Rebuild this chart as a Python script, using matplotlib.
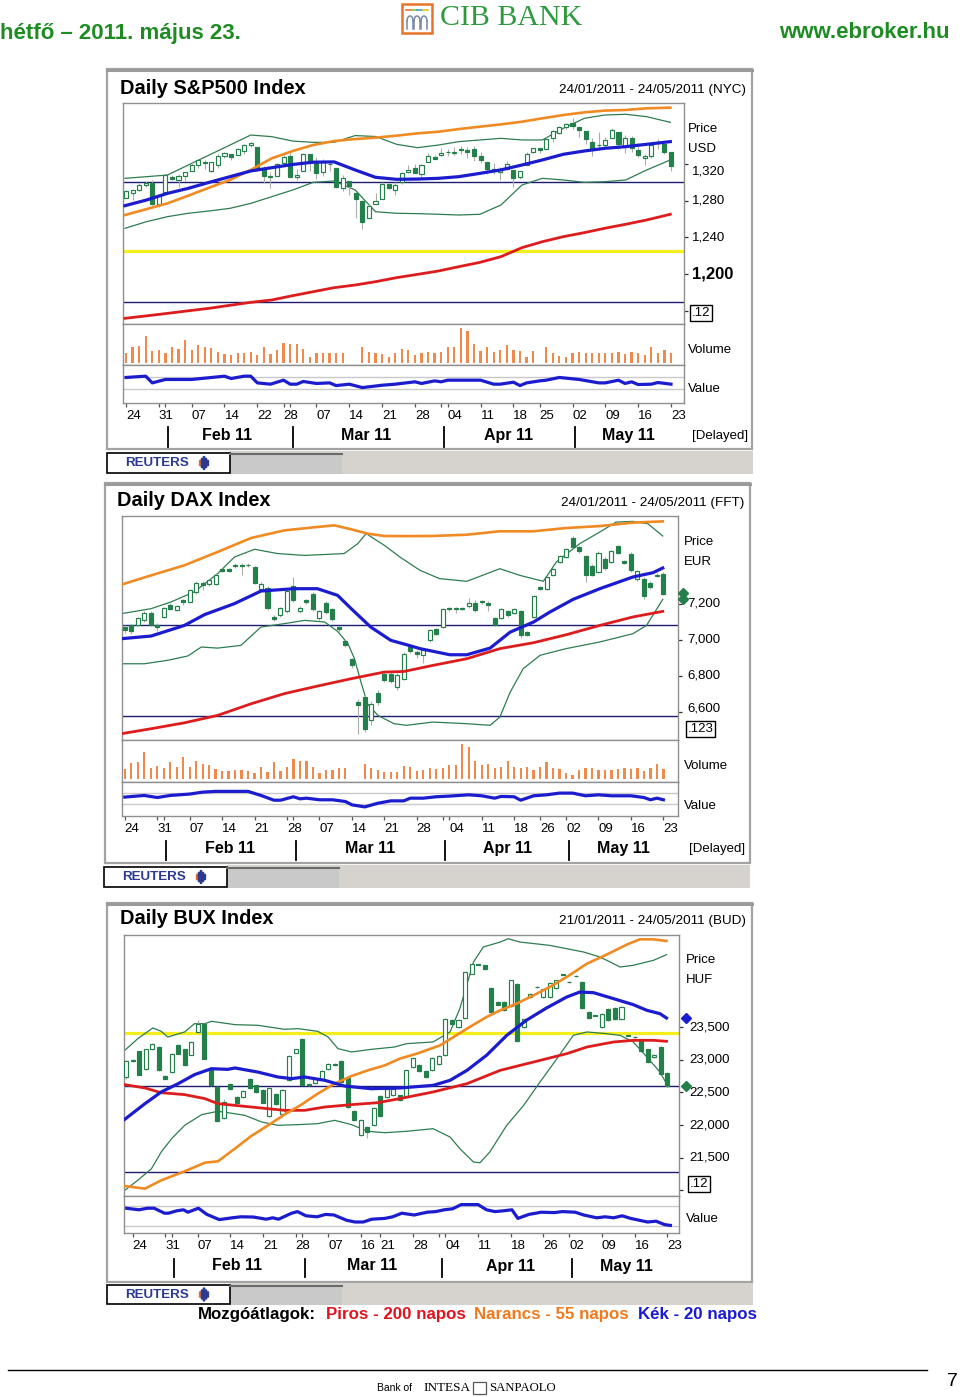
import numpy as np
import matplotlib
matplotlib.use("Agg")
import matplotlib.pyplot as plt
import matplotlib.transforms as mtrans
from matplotlib.patches import Rectangle, Circle

plt.rcParams['font.family'] = ['Liberation Sans', 'DejaVu Sans']

# ======================= DATA =======================
MONTHS = ['Feb 11', 'Mar 11', 'Apr 11', 'May 11']

# ---- S&P 500 (24/01/2011 - 23/05/2011), one value per trading day ----
SP_OPEN = [1283.3, 1288.2, 1291.9, 1297.5, 1299.6, 1276.5, 1289.1, 1305.9, 1302.8, 1307.0,
           1311.9, 1318.8, 1322.5, 1312.8, 1318.7, 1328.7, 1330.4, 1329.5, 1334.4, 1340.4,
           1338.9, 1315.4, 1307.1, 1307.3, 1321.6, 1328.6, 1305.5, 1312.4, 1330.7, 1322.7,
           1311.1, 1319.9, 1315.7, 1293.4, 1301.2, 1288.5, 1279.5, 1261.6, 1276.7, 1281.7,
           1298.3, 1292.2, 1300.6, 1311.8, 1315.5, 1309.4, 1321.9, 1327.4, 1329.5, 1333.6,
           1332.0, 1335.9, 1334.8, 1336.2, 1329.0, 1321.9, 1314.0, 1311.1, 1314.5, 1313.4,
           1305.9, 1319.1, 1333.2, 1337.1, 1336.8, 1348.4, 1353.9, 1360.1, 1365.2, 1359.8,
           1355.9, 1344.2, 1340.9, 1340.2, 1348.3, 1354.5, 1339.4, 1348.7, 1334.8, 1326.1,
           1328.5, 1342.4, 1342.0, 1333.1]
SP_HIGH = [1291.9, 1291.3, 1299.7, 1301.3, 1302.7, 1287.2, 1308.9, 1307.6, 1308.6, 1311.0,
           1322.9, 1324.9, 1324.5, 1322.0, 1330.8, 1332.9, 1330.4, 1337.6, 1341.5, 1344.1,
           1338.9, 1317.9, 1310.9, 1320.6, 1329.4, 1332.1, 1314.2, 1332.3, 1331.1, 1327.7,
           1325.7, 1323.2, 1315.7, 1308.4, 1301.2, 1288.5, 1280.9, 1276.1, 1288.9, 1300.6,
           1299.4, 1300.5, 1311.3, 1319.2, 1319.7, 1319.5, 1331.7, 1329.8, 1337.9, 1336.7,
           1338.2, 1339.5, 1338.8, 1339.5, 1333.2, 1321.9, 1321.4, 1316.8, 1322.9, 1313.4,
           1312.7, 1332.7, 1337.5, 1337.6, 1349.6, 1357.5, 1361.7, 1364.6, 1370.6, 1360.8,
           1355.9, 1348.0, 1354.4, 1349.4, 1359.4, 1354.5, 1351.1, 1350.5, 1343.3, 1330.4,
           1341.8, 1346.8, 1342.0, 1333.1]
SP_LOW = [1282.5, 1281.1, 1291.0, 1294.4, 1275.1, 1273.3, 1289.1, 1302.6, 1294.8, 1301.7,
          1311.9, 1316.0, 1314.9, 1311.6, 1316.1, 1326.9, 1324.6, 1329.5, 1331.0, 1338.1,
          1312.3, 1299.6, 1294.3, 1307.3, 1320.6, 1306.1, 1302.6, 1312.4, 1312.6, 1303.9,
          1306.9, 1312.3, 1294.2, 1291.0, 1286.4, 1261.1, 1249.1, 1261.6, 1276.2, 1281.7,
          1292.7, 1285.7, 1297.7, 1310.2, 1310.2, 1305.3, 1321.9, 1325.0, 1328.9, 1329.1,
          1330.0, 1330.7, 1326.6, 1322.9, 1321.1, 1309.2, 1309.5, 1302.4, 1313.7, 1294.7,
          1303.9, 1319.1, 1332.0, 1331.7, 1336.7, 1344.3, 1352.4, 1358.7, 1358.6, 1349.5,
          1341.5, 1329.2, 1335.6, 1338.6, 1348.3, 1336.4, 1332.0, 1333.4, 1327.3, 1318.5,
          1326.6, 1336.4, 1330.7, 1312.9]
SP_CLOSE = [1290.8, 1291.2, 1296.6, 1299.5, 1276.3, 1286.1, 1307.6, 1304.0, 1307.1, 1310.9,
            1319.1, 1324.6, 1320.9, 1321.9, 1329.2, 1332.3, 1328.0, 1336.3, 1340.4, 1343.0,
            1315.4, 1307.4, 1306.1, 1319.9, 1327.2, 1306.3, 1308.4, 1331.0, 1321.2, 1310.1,
            1321.8, 1320.0, 1295.1, 1304.3, 1296.4, 1281.9, 1256.9, 1273.7, 1279.2, 1298.4,
            1293.8, 1297.5, 1309.7, 1313.8, 1310.2, 1319.4, 1328.3, 1325.8, 1332.4, 1332.9,
            1332.6, 1335.5, 1333.5, 1328.2, 1324.5, 1314.2, 1314.4, 1314.5, 1319.7, 1305.1,
            1312.6, 1330.4, 1337.4, 1335.3, 1347.2, 1355.7, 1360.5, 1363.6, 1361.2, 1356.6,
            1347.3, 1335.1, 1340.2, 1346.3, 1357.2, 1342.1, 1348.7, 1337.8, 1329.5, 1329.0,
            1340.7, 1343.6, 1333.3, 1317.4]
SP_VOL = [30, 48, 50, 80, 36, 38, 30, 48, 40, 68,
          38, 53, 46, 43, 33, 26, 23, 28, 30, 33,
          23, 48, 26, 38, 60, 56, 56, 40, 18, 30,
          30, 30, 30, 30, np.nan, np.nan, 46, 33, 28, 25,
          18, 28, 40, 38, 23, 30, 33, 28, 33, 46,
          46, 103, 96, 56, 36, 46, 33, 38, 53, 38,
          36, 18, 36, np.nan, 48, 30, 20, 16, 28, 32,
          30, 28, 28, 30, 30, 33, 26, 33, 28, 23,
          46, 30, 38, 30]
SP_LINE_X = [-0.15, 3.15, 6.32, 9.49, 12.67, 15.84, 19.0, 22.2, 25.4, 28.5, 31.7, 34.9, 38.0, 41.2,
             44.4, 47.6, 50.7, 53.9, 57.1, 60.3, 63.4, 66.6, 69.8, 72.9, 76.1, 79.3, 82.9]
SP_MA20 = [1274.6, 1280.8, 1288.0, 1293.5, 1300.0, 1306.2, 1312.4, 1316.0, 1319.5, 1322.0, 1322.3,
           1313.5, 1305.5, 1303.3, 1303.6, 1304.4, 1306.2, 1309.8, 1313.6, 1318.9, 1324.4, 1330.6,
           1334.2, 1337.1, 1338.9, 1341.5, 1344.4]
SP_MA55 = [1264.4, 1270.9, 1277.1, 1285.5, 1294.2, 1302.6, 1313.5, 1326.2, 1334.2, 1340.7, 1345.0,
           1347.2, 1348.7, 1350.9, 1353.4, 1355.2, 1358.1, 1360.7, 1363.2, 1366.1, 1369.8, 1373.4,
           1376.3, 1378.2, 1378.9, 1380.7, 1381.4]
SP_MA200 = [1151.8, 1154.5, 1157.2, 1160.0, 1162.7, 1166.0, 1169.2, 1171.8, 1176.5, 1180.8, 1185.2,
            1188.1, 1191.7, 1196.1, 1199.7, 1203.4, 1208.1, 1212.8, 1219.0, 1228.8, 1235.3, 1240.8,
            1245.2, 1249.9, 1254.3, 1259.0, 1265.2]
SP_BB_UP = [1304.4, 1306.2, 1308.0, 1318.9, 1329.8, 1340.7, 1351.6, 1349.8, 1345.0, 1343.6, 1343.6,
            1351.0, 1350.0, 1341.5, 1337.8, 1340.7, 1344.4, 1346.2, 1348.0, 1346.2, 1346.2, 1358.9,
            1369.8, 1373.4, 1374.2, 1371.6, 1365.4]
SP_BB_LO = [1249.9, 1257.2, 1262.6, 1266.3, 1268.8, 1271.7, 1277.1, 1284.4, 1291.7, 1300.0, 1301.5,
            1291.7, 1268.0, 1266.3, 1265.9, 1265.2, 1264.4, 1265.2, 1275.3, 1297.1, 1304.4, 1302.6,
            1300.0, 1300.7, 1302.6, 1313.5, 1324.4]
SP_NAVY = [1300, 1170]
SP_YELLOW = [1225]
SP_VAL_X = [0, 3, 4, 6, 10, 15, 16, 18, 19, 20, 22, 24, 25, 26, 27, 29, 31, 32, 34, 36, 39, 41, 44,
            45, 47, 48, 49, 54, 56, 57, 59, 60, 61, 63, 64, 66, 69, 72, 73, 75, 76, 77, 78, 80, 81, 83]
SP_VAL = [1.0, 1.11, 0.54, 0.83, 0.83, 1.11, 0.91, 1.11, 1.11, 0.54, 0.43, 0.77, 0.43, 0.43, 0.66,
          0.49, 0.54, 0.31, 0.43, 0.14, 0.34, 0.43, 0.63, 0.49, 0.71, 0.63, 0.77, 0.77, 0.43, 0.43,
          0.6, 0.31, 0.54, 0.71, 0.77, 1.0, 0.83, 0.54, 0.54, 0.77, 0.49, 0.63, 0.4, 0.43, 0.57, 0.43]
SP_TICK_IDX = [0, 5, 10, 15, 20, 24, 29, 34, 39, 44, 49, 54, 59, 63, 68, 73, 78, 83]
SP_TICK_LAB = ['24', '31', '07', '14', '22', '28', '07', '14', '21', '28', '04', '11', '18', '25',
               '02', '09', '16', '23']
SP_MONTH_START = [6, 25, 48, 68]
SP_MONTH_LAB_X = [15.4, 36.5, 58.2, 76.5]
SP_YTICKS = [1320, 1280, 1240, 1200, 1160]
SP_YLAB = ['1,320', '1,280', '1,240', '1,200']

# ---- DAX ----
DAX_OPEN = [7072, 7081, 7085, 7109, 7152, 7081, 7128, 7196, 7168, 7220,
            7211, 7267, 7318, 7313, 7313, 7392, 7392, 7418, 7418, 7418,
            7405, 7281, 7289, 7128, 7137, 7161, 7300, 7161, 7220, 7257,
            7122, 7207, 7170, 7072, 6992, 6892, 6655, 6683, 6554, 6705,
            6813, 6813, 6739, 6785, 6961, 6933, 6915, 6998, 7059, 7072,
            7176, 7174, 7172, 7189, 7207, 7215, 7207, 7122, 7122, 7159,
            7152, 7159, 7044, 7128, 7294, 7281, 7363, 7433, 7461, 7567,
            7517, 7467, 7411, 7378, 7452, 7433, 7522, 7437, 7480, 7337,
            7341, 7318, 7363, 7368]
DAX_HIGH = [7085, 7090, 7130, 7160, 7160, 7095, 7185, 7205, 7195, 7228,
            7285, 7325, 7330, 7340, 7370, 7400, 7398, 7425, 7426, 7425,
            7412, 7320, 7300, 7140, 7185, 7280, 7350, 7190, 7230, 7265,
            7165, 7215, 7178, 7080, 7000, 6900, 6670, 6700, 6660, 6720,
            6825, 6820, 6815, 6935, 6975, 6945, 6950, 7060, 7068, 7180,
            7185, 7182, 7185, 7235, 7220, 7222, 7215, 7130, 7178, 7168,
            7178, 7168, 7050, 7250, 7300, 7358, 7402, 7472, 7512, 7580,
            7525, 7475, 7420, 7492, 7460, 7500, 7530, 7445, 7488, 7390,
            7350, 7325, 7372, 7375]
DAX_LOW = [7040, 7035, 7075, 7100, 7075, 7050, 7120, 7165, 7160, 7195,
           7205, 7255, 7280, 7300, 7305, 7375, 7378, 7400, 7360, 7408,
           7310, 7270, 7165, 7108, 7125, 7150, 7210, 7150, 7200, 7160,
           7110, 7145, 7105, 7045, 6960, 6845, 6480, 6490, 6530, 6640,
           6765, 6760, 6720, 6775, 6925, 6900, 6870, 6990, 7025, 7065,
           7160, 7150, 7165, 7180, 7155, 7200, 7160, 7075, 7115, 7130,
           7145, 7010, 7020, 7120, 7275, 7275, 7355, 7425, 7455, 7510,
           7485, 7320, 7355, 7370, 7390, 7425, 7478, 7420, 7380, 7330,
           7230, 7285, 7348, 7250]
DAX_CLOSE = [7054, 7048, 7122, 7152, 7085, 7072, 7178, 7174, 7187, 7211,
             7279, 7318, 7307, 7331, 7363, 7385, 7385, 7411, 7411, 7416,
             7318, 7313, 7178, 7118, 7178, 7270, 7220, 7178, 7211, 7170,
             7159, 7155, 7118, 7059, 6974, 6859, 6637, 6503, 6646, 6655,
             6776, 6770, 6804, 6924, 6937, 6924, 6942, 7054, 7035, 7174,
             7172, 7176, 7176, 7207, 7165, 7213, 7196, 7085, 7170, 7141,
             7170, 7029, 7029, 7244, 7285, 7350, 7396, 7467, 7507, 7517,
             7492, 7363, 7363, 7485, 7400, 7492, 7485, 7429, 7387, 7381,
             7244, 7294, 7355, 7257]
DAX_VOL = [30, 47, 52, 82, 34, 40, 34, 52, 37, 67,
           37, 54, 44, 42, 30, 24, 24, 27, 27, 24,
           17, 37, 22, 52, 24, 37, 60, 54, 54, 37,
           17, 27, 27, 32, 32, np.nan, np.nan, 44, 32, 27,
           22, 20, 20, 40, 37, 24, 27, 32, 30, 34,
           42, 42, 104, 97, 54, 42, 44, 32, 37, 54,
           37, 32, 37, 27, 37, 52, 32, 30, 17, 12,
           27, 32, 32, 27, 27, 27, 30, 32, 30, 32,
           24, 32, 44, 30]
DAX_MA55_X = [-0.57, 4.06, 9.2, 14.3, 19.5, 24.6, 29.7, 32.3, 34.9, 37.4, 40.0, 43.0, 47.5, 52.7,
              57.8, 63.0, 68.0, 73.2, 78.3, 82.9]
DAX_MA55 = [7307, 7359, 7415, 7489, 7567, 7609, 7628, 7637, 7615, 7591, 7578, 7577, 7578, 7585,
            7604, 7604, 7622, 7633, 7652, 7659]
DAX_MA20_X = [-0.57, 4.06, 9.2, 12.3, 16.9, 21.0, 26.1, 29.7, 32.8, 34.9, 37.9, 41.0, 43.4, 45.5,
              50.1, 52.7, 56.3, 59.4, 63.0, 65.5, 69.1, 73.2, 78.3, 81.4, 82.9]
DAX_MA20 = [7007, 7022, 7081, 7141, 7202, 7272, 7285, 7285, 7248, 7174, 7072, 6998, 6974, 6952,
            6918, 6918, 6955, 7044, 7100, 7155, 7226, 7285, 7350, 7374, 7400]
DAX_MA200_X = [-0.57, 4.06, 9.2, 14.3, 19.5, 24.6, 29.7, 34.9, 40.0, 43.0, 47.5, 52.7, 57.8, 63.0,
               68.0, 73.2, 78.3, 82.9]
DAX_MA200 = [6479, 6507, 6540, 6581, 6646, 6702, 6744, 6785, 6822, 6825, 6859, 6896, 6952, 6985,
             7029, 7081, 7128, 7159]
DAX_BBU_X = [-0.57, 4.06, 7.1, 10.7, 14.3, 16.9, 20.0, 23.6, 27.7, 33.8, 35.9, 37.2, 40.0, 42.4,
             45.5, 48.5, 52.7, 57.8, 60.9, 64.5, 66.5, 70.1, 73.2, 75.7, 78.3, 80.6, 82.9]
DAX_BB_UP = [7146, 7174, 7211, 7267, 7368, 7461, 7504, 7480, 7470, 7480, 7535, 7591, 7526, 7461,
             7387, 7341, 7326, 7396, 7359, 7326, 7433, 7535, 7600, 7655, 7659, 7646, 7578]
DAX_BBL_X = [-0.57, 3.03, 6.6, 9.7, 11.8, 14.3, 17.9, 21.0, 24.6, 27.7, 30.8, 32.8, 34.4, 35.4,
             36.4, 37.4, 39.0, 41.5, 43.4, 47.5, 52.7, 56.3, 57.8, 59.4, 61.4, 64.0, 68.0, 73.2,
             78.3, 80.4, 82.9]
DAX_BB_LO = [6868, 6868, 6887, 6911, 6961, 6955, 6970, 7072, 7091, 7109, 7100, 7048, 6979, 6896,
             6766, 6646, 6581, 6535, 6526, 6544, 6535, 6526, 6572, 6711, 6841, 6915, 6952, 6989,
             7035, 7081, 7226]
DAX_NAVY = [7081, 6578]
DAX_YELLOW = []
DAX_VAL_X = [0, 3, 5, 7, 10, 12, 14, 19, 21, 23, 24, 26, 27, 28, 30, 32, 34, 35, 37, 39, 41, 43,
             44, 46, 48, 50, 53, 55, 57, 58, 60, 61, 63, 65, 67, 69, 71, 73, 75, 78, 80, 81, 82, 83]
DAX_VAL = [0.63, 0.78, 0.59, 0.78, 0.91, 1.09, 1.16, 1.16, 0.78, 0.34, 0.34, 0.66, 0.47, 0.53,
           0.38, 0.38, 0.22, -0.09, -0.28, 0.06, 0.28, 0.28, 0.53, 0.53, 0.66, 0.72, 0.84, 0.75,
           0.53, 0.69, 0.66, 0.34, 0.75, 0.84, 1.0, 1.0, 0.75, 0.84, 0.75, 0.75, 0.59, 0.38, 0.53,
           0.38]
DAX_TICK_IDX = [0, 5, 10, 15, 20, 25, 30, 35, 40, 45, 50, 55, 60, 64, 68, 73, 78, 83]
DAX_TICK_LAB = ['24', '31', '07', '14', '21', '28', '07', '14', '21', '28', '04', '11', '18', '26',
                '02', '09', '16', '23']
DAX_MONTH_START = [6, 26, 49, 68]
DAX_MONTH_LAB_X = [16.2, 37.8, 59.0, 76.9]
DAX_YTICKS = [7200, 7000, 6800, 6600]
DAX_YLAB = ['7,200', '7,000', '6,800', '6,600']
DAX_MARKERS = [7262, 7228]

# ---- BUX (21/01/2011 - 23/05/2011) ----
BUX_OPEN = [22735, 23000, 23128, 22852, 23158, 23194, 22745, 22811, 23220, 23158,
            23077, 23424, 23551, 22837, 22582, 22108, 22633, 22429, 22429, 22710,
            22608, 22531, 22138, 22480, 22174, 22684, 23107, 23311, 22633, 22648,
            22710, 22852, 22934, 22975, 22720, 22210, 21843, 21970, 21996, 22444,
            22429, 22454, 22454, 22444, 22888, 22924, 22822, 22837, 22939, 23066,
            23602, 23500, 23638, 24316, 24459, 24444, 24097, 23882, 23882, 23821,
            24163, 23500, 23959, 24117, 23959, 23959, 24097, 24306, 24193, 24285,
            24188, 23729, 23683, 23500, 23780, 23791, 23617, 23377, 23352, 23311,
            23158, 23041, 23194, 22801]
BUX_HIGH = [22990, 23010, 23140, 23170, 23260, 23205, 22760, 23100, 23235, 23170,
            23290, 23600, 23565, 22850, 22595, 22400, 22650, 22440, 22530, 22725,
            22620, 22545, 22580, 22490, 22545, 23070, 23170, 23325, 22645, 22725,
            22835, 22950, 22945, 22990, 22735, 22225, 22085, 21985, 22275, 22455,
            22560, 22570, 22465, 22850, 23040, 22935, 22835, 23040, 23070, 23640,
            23615, 23615, 24355, 24480, 24470, 24455, 24110, 23895, 23895, 24225,
            24175, 23630, 24020, 24125, 24085, 24190, 24225, 24315, 24200, 24295,
            24200, 23740, 23690, 23715, 23790, 23800, 23815, 23385, 23360, 23320,
            23170, 23085, 23205, 22810]
BUX_LOW = [22700, 22960, 22760, 22840, 23150, 22820, 22700, 22800, 23080, 22910,
           23065, 23410, 23005, 22595, 22040, 22095, 22530, 22330, 22415, 22555,
           22495, 22330, 22125, 22310, 22160, 22670, 23095, 22605, 22595, 22635,
           22700, 22840, 22910, 22645, 22260, 22055, 21830, 21800, 21985, 22125,
           22415, 22440, 22365, 22430, 22875, 22810, 22720, 22825, 22925, 23055,
           23540, 23490, 23625, 24305, 24445, 24370, 23715, 23830, 23740, 23810,
           23270, 23490, 23945, 24100, 23945, 23945, 24085, 24290, 24175, 24265,
           23780, 23625, 23665, 23490, 23590, 23605, 23605, 23360, 23335, 23115,
           22950, 23030, 22775, 22585]
BUX_CLOSE = [22975, 22975, 22771, 23158, 23245, 22837, 22710, 23092, 23092, 22924,
             23271, 23551, 23016, 22608, 22057, 22353, 22546, 22342, 22516, 22567,
             22506, 22342, 22567, 22327, 22531, 23056, 23158, 22618, 22608, 22710,
             22822, 22939, 22924, 22659, 22276, 22072, 22072, 21894, 22261, 22138,
             22546, 22556, 22378, 22837, 23026, 22822, 22735, 23026, 23056, 23628,
             23551, 23602, 24341, 24469, 24454, 24382, 23729, 23842, 23755, 24214,
             23281, 23617, 24010, 24107, 24076, 24178, 24214, 24296, 24183, 24275,
             23791, 23638, 23673, 23704, 23602, 23617, 23806, 23367, 23342, 23128,
             22964, 23077, 22786, 22597]
BUX_MA55_X = [-0.2, 2.9, 5.4, 9.0, 12.1, 14.1, 16.7, 19.2, 21.8, 24.3, 26.9, 29.4, 32.0, 34.6,
              37.1, 39.7, 42.0, 44.6, 48.2, 52.3, 55.3, 57.4, 59.9, 62.5, 65.0, 67.6, 70.7, 73.7,
              76.8, 78.8, 80.9, 82.9]
BUX_MA55 = [21067, 21027, 21154, 21292, 21424, 21445, 21639, 21832, 21996, 22159, 22312, 22480,
            22633, 22750, 22837, 22913, 23016, 23092, 23220, 23475, 23653, 23755, 23857, 23984,
            24112, 24265, 24469, 24607, 24760, 24841, 24841, 24816]
BUX_MA20_X = [-0.2, 2.9, 5.4, 8.0, 10.5, 13.1, 15.6, 16.7, 20.2, 23.3, 25.4, 27.4, 30.5, 33.5,
              37.6, 42.0, 47.1, 49.7, 52.3, 55.3, 58.4, 61.4, 64.5, 67.6, 69.6, 71.7, 74.8, 77.8,
              79.9, 81.9, 82.9]
BUX_MA20 = [22087, 22327, 22506, 22633, 22771, 22862, 22852, 22873, 22811, 22735, 22710, 22735,
            22684, 22597, 22556, 22567, 22607, 22684, 22837, 23067, 23372, 23602, 23791, 23959,
            24035, 24025, 23933, 23842, 23755, 23704, 23638]
BUX_MA200_X = [-0.2, 2.9, 5.4, 9.0, 12.1, 14.1, 16.7, 19.2, 21.8, 24.3, 27.4, 30.5, 34.6, 38.6,
               42.0, 47.1, 52.3, 57.4, 62.5, 67.6, 70.7, 74.8, 77.8, 80.9, 82.9]
BUX_MA200 = [22618, 22567, 22495, 22465, 22404, 22327, 22301, 22276, 22250, 22225, 22225, 22276,
             22312, 22342, 22404, 22506, 22633, 22837, 22964, 23092, 23194, 23271, 23296, 23296,
             23281]
BUX_BBU_X = [-0.2, 1.8, 4.1, 5.4, 6.4, 9.0, 10.5, 12.1, 13.1, 16.7, 20.2, 24.3, 26.4, 29.4, 31.0,
             32.5, 34.6, 37.6, 41.2, 43.0, 47.1, 49.7, 51.2, 53.3, 54.8, 57.4, 58.6, 60.4, 65.0,
             70.2, 72.7, 75.8, 77.8, 80.9, 82.9]
BUX_BB_UP = [23143, 23321, 23485, 23434, 23347, 23424, 23551, 23551, 23587, 23536, 23526, 23465,
             23475, 23434, 23347, 23169, 23118, 23158, 23194, 23245, 23271, 23424, 23780, 24494,
             24724, 24800, 24851, 24800, 24749, 24647, 24571, 24418, 24444, 24520, 24607]
BUX_BBL_X = [-0.2, 1.8, 3.9, 5.4, 7.0, 9.0, 11.6, 14.1, 15.6, 18.2, 20.8, 23.3, 26.4, 29.4, 32.0,
             34.6, 37.1, 39.7, 43.0, 47.1, 49.7, 51.2, 53.3, 54.3, 55.8, 58.4, 61.0, 63.5, 66.1,
             68.6, 70.7, 73.7, 75.8, 77.8, 79.9, 81.9, 82.9]
BUX_BB_LO = [21001, 21154, 21332, 21588, 21792, 21996, 22159, 22210, 22190, 22149, 22047, 21996,
             22006, 22021, 22072, 22006, 21904, 21883, 21904, 21944, 21817, 21639, 21434, 21424,
             21588, 21996, 22302, 22658, 23016, 23372, 23424, 23398, 23372, 23271, 23041, 22811,
             22633]
BUX_NAVY = [22597, 21282]
BUX_YELLOW = [23413]
BUX_VAL_X = [0.0, 2.0, 3.3, 4.3, 5.9, 6.5, 7.8, 8.8, 9.5, 11.1, 12.4, 14.3, 16.3, 17.6, 19.5, 21.5,
             22.5, 23.4, 25.4, 26.3, 27.6, 29.3, 30.6, 31.9, 33.8, 35.1, 36.4, 37.7, 39.7, 40.9,
             42.3, 44.2, 46.2, 47.5, 48.8, 50.1, 51.4, 54.0, 55.3, 56.6, 57.9, 59.2, 60.1, 61.8,
             63.7, 65.7, 66.9, 68.9, 70.2, 72.2, 73.5, 74.8, 76.1, 77.4, 78.7, 80.0, 81.3, 82.6, 83.5]
BUX_VAL = [0.91, 0.83, 0.91, 0.91, 0.66, 0.66, 0.78, 0.83, 0.71, 0.91, 0.6, 0.34, 0.43, 0.48, 0.47,
           0.36, 0.43, 0.36, 0.66, 0.74, 0.53, 0.48, 0.6, 0.57, 0.31, 0.22, 0.22, 0.36, 0.4, 0.48,
           0.66, 0.57, 0.71, 0.74, 0.83, 0.88, 1.09, 1.09, 0.83, 0.74, 0.78, 0.83, 0.4, 0.6, 0.71,
           0.69, 0.74, 0.71, 0.57, 0.43, 0.48, 0.43, 0.53, 0.4, 0.31, 0.22, 0.26, 0.09, 0.05]
BUX_TICK_IDX = [1, 6, 11, 16, 21, 26, 31, 36, 39, 44, 49, 54, 59, 64, 68, 73, 78, 83]
BUX_TICK_LAB = ['24', '31', '07', '14', '21', '28', '07', '16', '21', '28', '04', '11', '18', '26',
                '02', '09', '16', '23']
BUX_MONTH_START = [7, 27, 48, 68]
BUX_MONTH_LAB_X = [17.0, 37.7, 59.0, 76.8]
BUX_YTICKS = [23500, 23000, 22500, 22000, 21500, 21000]
BUX_YLAB = ['23,500', '23,000', '22,500', '22,000', '21,500']
BUX_MARKER_MA = 23638
BUX_MARKER_LAST = 22600

# ======================= STYLE / FIGURE =======================
W, H = 960, 1397
fig = plt.figure(figsize=(W / 100, H / 100), dpi=100)
ov = fig.add_axes([0, 0, 1, 1])
ov.set_xlim(0, W)
ov.set_ylim(H, 0)
ov.axis('off')
ov.set_zorder(0)

CGREEN = '#23804a'
NAVY = '#1c1c70'
YELLOW = '#f4ee1c'
ORANGE = '#f08a22'
RED = '#dd1d1d'
BLUE = '#1c1ccf'
BBCOL = '#2e7d50'
VOLCOL = '#f08a4c'
HDRGREEN = '#1f8c23'


def px_axes(x0, y0, x1, y1):
    ax = fig.add_axes([x0 / W, 1 - y1 / H, (x1 - x0) / W, (y1 - y0) / H])
    ax.set_zorder(2)
    for s in ax.spines.values():
        s.set_color('#8f8f8f')
        s.set_linewidth(1.0)
    ax.set_xticks([])
    ax.set_yticks([])
    return ax


def candles(ax, o, h, l, c):
    o = np.asarray(o, float); h = np.asarray(h, float)
    l = np.asarray(l, float); c = np.asarray(c, float)
    idx = np.arange(len(c))
    ax.vlines(idx, l, h, color='#a9aea9', lw=0.8, zorder=3)
    up = c >= o
    bot = np.minimum(o, c)
    hgt = np.maximum(np.abs(c - o), 1e-9)
    ax.bar(idx[up], hgt[up], bottom=bot[up], width=0.62, facecolor='white',
           edgecolor=CGREEN, linewidth=0.85, zorder=3.2)
    ax.bar(idx[~up], hgt[~up], bottom=bot[~up], width=0.62, facecolor=CGREEN,
           edgecolor=CGREEN, linewidth=0.85, zorder=3.2)


def draw_panel(g):
    x0, x1 = g['xpx']
    xl = g['xlim']
    yp0, yp1 = g['price_px']
    ap = px_axes(x0, yp0, x1, yp1)
    ap.set_xlim(*xl)
    ap.set_ylim(*g['ylim'])
    for v in g['yellow']:
        ap.axhline(v, color=YELLOW, lw=2.3, zorder=1.4)
    for v in g['navy']:
        ap.axhline(v, color=NAVY, lw=1.0, zorder=1.5)
    ap.plot(g['bbu'][0], g['bbu'][1], color=BBCOL, lw=0.9, zorder=2)
    ap.plot(g['bbl'][0], g['bbl'][1], color=BBCOL, lw=0.9, zorder=2)
    candles(ap, *g['ohlc'])
    ap.plot(g['ma200'][0], g['ma200'][1], color=RED, lw=2.0, zorder=4)
    ap.plot(g['ma55'][0], g['ma55'][1], color=ORANGE, lw=1.9, zorder=4)
    ap.plot(g['ma20'][0], g['ma20'][1], color=BLUE, lw=2.3, zorder=4.1)
    # right axis ticks and labels
    ap.yaxis.tick_right()
    ap.set_yticks(g['yticks'])
    ap.set_yticklabels([])
    ap.tick_params(axis='y', length=3, width=0.9, color='#333333')
    base = mtrans.blended_transform_factory(ap.transAxes, ap.transData)
    for val, lab, dy, bold in g['ylabels']:
        tr = mtrans.offset_copy(base, fig=fig, x=g['lab_dx'], y=-dy, units='dots')
        ap.text(1.0, val, lab, transform=tr, ha='left', va='center', clip_on=False,
                fontsize=12 if bold else 9.5, fontweight='bold' if bold else 'normal')
    for (xv, yv, col) in g.get('markers', []):
        ap.plot([xv], [yv], marker='D', ms=5.5, color=col, clip_on=False, zorder=6)

    # volume
    if g.get('vol') is not None:
        yv0, yv1 = g['vol_px']
        av = px_axes(x0, yv0, x1, yv1)
        av.set_xlim(*xl)
        av.set_ylim(*g['vol_ylim'])
        vol = np.asarray(g['vol'], float)
        vi = np.arange(len(vol))
        m = ~np.isnan(vol)
        av.bar(vi[m], vol[m], width=0.34, color=VOLCOL, linewidth=0)

    # value
    yl0, yl1 = g['val_px']
    aval = px_axes(x0, yl0, x1, yl1)
    aval.set_xlim(*xl)
    aval.set_ylim(*g['val_ylim'])
    aval.axhline(1, color='#c9c9c9', lw=1.0)
    aval.axhline(0, color='#c9c9c9', lw=1.0)
    aval.plot(g['val'][0], g['val'][1], color=BLUE, lw=2.3)
    aval.set_xticks(g['tick_idx'])
    aval.set_xticklabels(g['tick_lab'])
    for t in aval.get_xticklabels():
        t.set_ha('left')
    aval.set_xticks(g['month_start'], minor=True)
    aval.tick_params(axis='x', which='both', length=3, width=0.9, color='#555555',
                     pad=2, labelsize=9.5, bottom=True)
    hpx = yl1 - yl0
    bt = mtrans.blended_transform_factory(aval.transData, aval.transAxes)
    s0, s1 = g['sep_px']
    for ms in g['month_start']:
        aval.plot([ms + 0.4, ms + 0.4], [-(s0 - yl1) / hpx, -(s1 - yl1) / hpx], color='black',
                  lw=1.3, transform=bt, clip_on=False)
    for mx, ml in zip(g['month_x'], MONTHS):
        aval.text(mx, -(g['month_px'] - yl1) / hpx, ml, transform=bt, ha='center', va='center',
                  fontsize=11.5, fontweight='bold', clip_on=False)


def frame(x0, y0, x1, y1):
    ov.add_patch(Rectangle((x0, y0), x1 - x0, y1 - y0, fill=False, ec='#a3a3a3', lw=1.6))
    ov.plot([x0, x1], [y0 + 0.5, y0 + 0.5], color='#9a9a9a', lw=2.2)


def reuters_bar(x0, y0, y1):
    ov.add_patch(Rectangle((x0 + 123, y0 - 2), 646 - 123, y1 - y0 + 3, fc='#d6d3ce', ec='none'))
    ov.add_patch(Rectangle((x0 + 123, y0), 112, y1 - y0 + 1, fc='#c9c9c9', ec='none'))
    ov.plot([x0 + 123, x0 + 235], [y0 + 0.5, y0 + 0.5], color='#6a6a6a', lw=1.5)
    ov.add_patch(Rectangle((x0, y0), 123, y1 - y0, fc='white', ec='black', lw=1.2))
    ym = (y0 + y1) / 2
    ov.text(x0 + 18, ym + 0.5, 'REUTERS', color='#2b3990', fontsize=9.6, fontweight='bold',
            ha='left', va='center')
    cx = x0 + 97
    for i in range(-2, 3):
        for j in range(-3, 4):
            if i * i + 0.6 * j * j <= 5.5:
                col = '#e06a2a' if (i == -2 and j in (-1, 0, 1)) else '#2b3990'
                ov.add_patch(Circle((cx + i * 1.9, ym + j * 1.9), 0.75, color=col))


# ----------------------- header -----------------------
ov.text(0, 33, 'hétfő – 2011. május 23.', color=HDRGREEN, fontsize=16, fontweight='bold',
        ha='left', va='center')
ov.text(950, 33, 'www.ebroker.hu', color=HDRGREEN, fontsize=16, fontweight='bold',
        ha='right', va='center')
ov.add_patch(Rectangle((402, 4), 30, 29, fill=False, ec='#e8742c', lw=1.8))
for k, colr in enumerate(['#e8742c', '#8bbf3c', '#3aa0d8', '#e8c02c']):
    ov.plot([406 + 5.5 * k, 411 + 5.5 * k], [10, 10], color=colr, lw=1.2)
for cxa in (410, 417, 424):
    t = np.linspace(0, np.pi, 20)
    ov.plot(cxa + 3 * np.cos(t), 21 - 5 * np.sin(t), color='#7887a6', lw=1.1)
    ov.plot([cxa - 3, cxa - 3], [21, 29], color='#7887a6', lw=1.1)
    ov.plot([cxa + 3, cxa + 3], [21, 29], color='#7887a6', lw=1.1)
ov.text(440, 18, 'CIB BANK', color='#2e9a3e', fontsize=21.5,
        family=['Liberation Serif', 'DejaVu Serif'], ha='left', va='center')

# ----------------------- S&P panel -----------------------
frame(107, 69, 752, 449)
ov.text(120, 88, 'Daily S&P500 Index', fontsize=14.4, fontweight='bold', ha='left', va='center')
ov.text(746, 90, '24/01/2011 - 24/05/2011 (NYC)', fontsize=9.7, ha='right', va='center')
for txt, yy in (('Price', 129), ('USD', 149), ('Volume', 350), ('Value', 389)):
    ov.text(688, yy, txt, fontsize=9.5, ha='left', va='center')
ov.text(692, 436, '[Delayed]', fontsize=9.5, ha='left', va='center')
ov.text(692, 313, '.12', fontsize=9.5, ha='left', va='center',
        bbox=dict(boxstyle='square,pad=0.12', fc='white', ec='black', lw=1))
reuters_bar(107, 453, 473)

draw_panel(dict(
    xpx=(123.5, 684), xlim=(-0.38, 84.98), price_px=(103, 324), ylim=(1145.6, 1386.5),
    yellow=SP_YELLOW, navy=SP_NAVY,
    bbu=(SP_LINE_X, SP_BB_UP), bbl=(SP_LINE_X, SP_BB_LO),
    ohlc=(SP_OPEN, SP_HIGH, SP_LOW, SP_CLOSE),
    ma200=(SP_LINE_X, SP_MA200), ma55=(SP_LINE_X, SP_MA55), ma20=(SP_LINE_X, SP_MA20),
    yticks=SP_YTICKS,
    ylabels=[(SP_YTICKS[0], SP_YLAB[0], 7, False), (SP_YTICKS[1], SP_YLAB[1], 0, False),
             (SP_YTICKS[2], SP_YLAB[2], 0, False), (SP_YTICKS[3], SP_YLAB[3], 0, True)],
    lab_dx=8,
    vol=SP_VOL, vol_px=(324, 365), vol_ylim=(-7, 116),
    val=(SP_VAL_X, SP_VAL), val_px=(365, 403), val_ylim=(-1.17, 2.06),
    tick_idx=SP_TICK_IDX, tick_lab=SP_TICK_LAB, month_start=SP_MONTH_START,
    month_x=SP_MONTH_LAB_X, month_px=436, sep_px=(427, 447),
))

# ----------------------- DAX panel -----------------------
frame(105, 483, 750, 863)
ov.text(117, 501, 'Daily DAX Index', fontsize=14.4, fontweight='bold', ha='left', va='center')
ov.text(744, 503, '24/01/2011 - 24/05/2011 (FFT)', fontsize=9.7, ha='right', va='center')
for txt, yy in (('Price', 542), ('EUR', 562), ('Volume', 766), ('Value', 806)):
    ov.text(684, yy, txt, fontsize=9.5, ha='left', va='center')
ov.text(689, 849, '[Delayed]', fontsize=9.5, ha='left', va='center')
ov.text(688, 729, '.123', fontsize=9.5, ha='left', va='center',
        bbox=dict(boxstyle='square,pad=0.12', fc='white', ec='black', lw=1))
reuters_bar(104, 867, 887)

draw_panel(dict(
    xpx=(122, 678), xlim=(-0.42, 85.25), price_px=(516, 740), ylim=(6444.4, 7688.9),
    yellow=DAX_YELLOW, navy=DAX_NAVY,
    bbu=(DAX_BBU_X, DAX_BB_UP), bbl=(DAX_BBL_X, DAX_BB_LO),
    ohlc=(DAX_OPEN, DAX_HIGH, DAX_LOW, DAX_CLOSE),
    ma200=(DAX_MA200_X, DAX_MA200), ma55=(DAX_MA55_X, DAX_MA55), ma20=(DAX_MA20_X, DAX_MA20),
    yticks=DAX_YTICKS,
    ylabels=[(DAX_YTICKS[0], DAX_YLAB[0], 0, False), (DAX_YTICKS[1], DAX_YLAB[1], 0, False),
             (DAX_YTICKS[2], DAX_YLAB[2], 0, False), (DAX_YTICKS[3], DAX_YLAB[3], -3, False)],
    lab_dx=9,
    markers=[(86.0, DAX_MARKERS[0], CGREEN), (86.0, DAX_MARKERS[1], CGREEN)],
    vol=DAX_VOL, vol_px=(740, 782), vol_ylim=(-9, 117),
    val=(DAX_VAL_X, DAX_VAL), val_px=(782, 816), val_ylim=(-1.125, 2.03),
    tick_idx=DAX_TICK_IDX, tick_lab=DAX_TICK_LAB, month_start=DAX_MONTH_START,
    month_x=DAX_MONTH_LAB_X, month_px=849, sep_px=(841, 860),
))

# ----------------------- BUX panel -----------------------
frame(107, 903, 752, 1282)
ov.text(120, 919, 'Daily BUX Index', fontsize=14.4, fontweight='bold', ha='left', va='center')
ov.text(746, 921, '21/01/2011 - 24/05/2011 (BUD)', fontsize=9.7, ha='right', va='center')
for txt, yy in (('Price', 960), ('HUF', 980), ('Value', 1219)):
    ov.text(686, yy, txt, fontsize=9.5, ha='left', va='center')
ov.text(690, 1184, '.12', fontsize=9.5, ha='left', va='center',
        bbox=dict(boxstyle='square,pad=0.12', fc='white', ec='black', lw=1))
reuters_bar(107, 1285, 1304)

draw_panel(dict(
    xpx=(124, 679), xlim=(-0.31, 84.82), price_px=(935, 1196), ylim=(20914.3, 24907.6),
    yellow=BUX_YELLOW, navy=BUX_NAVY,
    bbu=(BUX_BBU_X, BUX_BB_UP), bbl=(BUX_BBL_X, BUX_BB_LO),
    ohlc=(BUX_OPEN, BUX_HIGH, BUX_LOW, BUX_CLOSE),
    ma200=(BUX_MA200_X, BUX_MA200), ma55=(BUX_MA55_X, BUX_MA55), ma20=(BUX_MA20_X, BUX_MA20),
    yticks=BUX_YTICKS,
    ylabels=[(BUX_YTICKS[k], BUX_YLAB[k], 0, False) for k in range(5)],
    lab_dx=10,
    markers=[(85.9, BUX_MARKER_MA, BLUE), (85.9, BUX_MARKER_LAST, CGREEN)],
    vol=None,
    val=(BUX_VAL_X, BUX_VAL), val_px=(1196, 1233), val_ylim=(-0.33, 1.52),
    tick_idx=BUX_TICK_IDX, tick_lab=BUX_TICK_LAB, month_start=BUX_MONTH_START,
    month_x=BUX_MONTH_LAB_X, month_px=1266, sep_px=(1259, 1277),
))

# ----------------------- legend line -----------------------
for xx, txt, col in ((198, 'Mozgóátlagok:', 'black'), (326, 'Piros - 200 napos', '#e0141e'),
                     (474, 'Narancs - 55 napos', '#f07a1e'), (638, 'Kék - 20 napos', '#1a1ad0')):
    ov.text(xx, 1314, txt, color=col, fontsize=12.2, fontweight='bold', ha='left', va='center')

# ----------------------- footer -----------------------
ov.plot([8, 927], [1370, 1370], color='black', lw=1.0)
ov.text(377, 1388, 'Bank of', fontsize=7.5, ha='left', va='center')
ov.text(423, 1388, 'INTESA', fontsize=9.5, ha='left', va='center',
        family=['Liberation Serif', 'DejaVu Serif'])
ov.add_patch(Rectangle((473, 1382), 13, 12, fill=False, ec='#555555', lw=0.9))
ov.text(489, 1388, 'SANPAOLO', fontsize=9.2, ha='left', va='center',
        family=['Liberation Serif', 'DejaVu Serif'])
ov.text(952, 1382, '7', fontsize=14, ha='center', va='center')

fig.savefig('out.png', dpi=100)
